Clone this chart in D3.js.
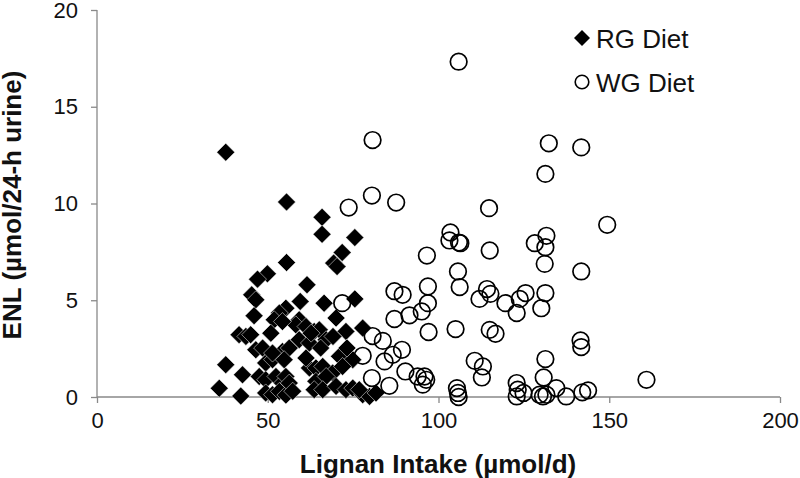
<!DOCTYPE html>
<html><head><meta charset="utf-8">
<script src="https://cdn.jsdelivr.net/npm/d3@7"></script>
<style>body{margin:0;background:#fff}svg{display:block}text{font-family:"Liberation Sans",Arial,sans-serif}</style>
</head><body>
<script>
const rgX=[37.7,55.5,65.9,65.9,75.5,71.8,69.3,70.3,55.5,49.9,47.0,61.5,45.3,46.5,75.5,66.5,59.5,55.3,53.4,46.0,59.2,58.2,61.2,70.0,63.6,65.1,51.9,54.3,50.9,41.6,43.6,45.0,72.9,77.8,59.2,62.2,67.1,69.1,46.5,48.5,54.3,71.0,74.9,37.7,49.4,51.4,62.2,64.1,66.1,69.0,42.6,47.5,49.4,52.4,54.3,64.1,67.1,35.8,42.1,49.4,51.4,53.4,55.3,63.6,66.1,70.0,72.9,74.9,77.8,79.8,81.7,76.8,56.3,54.8,55.3,61.2,62.7,65.5,73.2,71.9,51.4,56.3,57.3];
const rgY=[12.65,10.08,9.29,8.41,8.24,7.47,6.92,6.74,6.95,6.37,6.09,5.80,5.28,5.02,5.07,4.85,4.94,4.59,4.34,4.20,3.99,3.73,3.64,4.08,3.39,3.47,3.99,3.90,3.30,3.22,3.13,3.22,3.39,3.56,2.96,2.79,2.96,3.13,2.44,2.53,2.35,2.10,1.93,1.67,1.76,1.93,1.50,1.50,1.58,1.24,1.15,1.06,0.89,1.06,0.72,0.81,1.06,0.45,0.05,0.21,0.12,0.29,0.10,0.38,0.38,0.55,0.38,0.46,0.12,0.03,0.21,0.38,2.53,1.93,1.06,2.01,3.30,2.53,2.53,1.58,2.27,0.72,0.30];
const wgX=[105.9,132.3,141.8,131.3,114.8,149.4,103.5,103.2,106.0,106.4,128.2,131.6,131.3,96.6,115.0,131.1,105.7,141.8,106.2,96.9,114.2,115.2,112.0,125.5,123.8,119.6,122.9,131.3,130.1,96.9,95.1,91.5,87.1,89.5,87.1,97.1,105.0,115.0,116.7,141.6,141.8,89.3,86.6,131.3,110.6,113.0,112.7,130.8,160.9,90.3,93.9,95.9,96.4,95.4,105.4,105.7,105.9,122.9,123.2,122.9,124.9,129.6,130.6,131.6,134.5,137.4,142.1,143.8,80.7,80.5,73.7,87.6,71.8,80.7,83.7,77.8,84.2,80.5,85.6];
const wgY=[17.33,13.11,12.9,11.53,9.76,8.9,8.50,8.09,7.98,7.95,7.95,8.33,7.74,7.31,7.57,6.88,6.49,6.49,5.68,5.71,5.58,5.33,5.07,5.37,5.07,4.85,4.34,5.37,4.59,4.85,4.42,4.22,5.47,5.28,4.03,3.36,3.51,3.47,3.27,2.92,2.58,2.44,2.18,1.96,1.87,1.58,1.01,1.01,0.89,1.32,1.06,1.06,0.89,0.64,0.46,0.21,0.00,0.72,0.38,0.03,0.21,0.12,0.03,0.12,0.46,0.03,0.24,0.34,13.28,10.41,9.79,10.05,4.85,3.15,2.90,2.13,1.84,0.98,0.58];
const xTicks=[0,50,100,150,200];
const yTicks=[0,5,10,15,20];
const seriesNames=["RG Diet","WG Diet"];
const xTitle="Lignan Intake (µmol/d)";
const yTitle="ENL (µmol/24-h urine)";

const W=800,H=478;
const svg=d3.select("body").append("svg").attr("width",W).attr("height",H);
const x=d3.scaleLinear().domain([0,200]).range([97,780]);
const y=d3.scaleLinear().domain([0,20]).range([397,10]);
const axisColor="#898989";

const gx=svg.append("g").attr("transform","translate(0,397)")
  .call(d3.axisBottom(x).tickValues(xTicks).tickSize(6).tickPadding(9));
const gy=svg.append("g").attr("transform","translate(97,0)")
  .call(d3.axisLeft(y).tickValues(yTicks).tickSize(6).tickPadding(13));
[gx,gy].forEach(g=>{
  g.selectAll("path,line").attr("stroke",axisColor).attr("stroke-width",1.3);
  g.selectAll("text").attr("font-size",22).attr("fill","#111")
   .attr("font-family",'"Liberation Sans",Arial,sans-serif');
});
gx.select(".domain").attr("d","M97,0H780");
gy.select(".domain").attr("d","M0,10V397");

svg.append("text").attr("x",438).attr("y",473).attr("text-anchor","middle")
  .attr("font-weight","bold").attr("font-size",26).attr("fill","#111").text(xTitle);
svg.append("text").attr("transform","translate(21,205) rotate(-90)").attr("text-anchor","middle")
  .attr("font-weight","bold").attr("font-size",26).attr("fill","#111").text(yTitle);

const diamond=(cx,cy,r)=>`M${cx},${cy-r}L${cx+r},${cy}L${cx},${cy+r}L${cx-r},${cy}Z`;
const rg=rgX.map((v,i)=>({x:v,y:rgY[i]}));
const wg=wgX.map((v,i)=>({x:v,y:wgY[i]}));

svg.append("g").selectAll("path").data(rg).join("path")
  .attr("d",d=>diamond(x(d.x),y(d.y),9))
  .attr("fill","#000").attr("stroke","#fff").attr("stroke-width",0.5);
svg.append("g").selectAll("circle").data(wg).join("circle")
  .attr("cx",d=>x(d.x)).attr("cy",d=>y(d.y)).attr("r",8.3)
  .attr("fill","none").attr("stroke","#000").attr("stroke-width",1.7);

// legend
const lg=svg.append("g");
lg.append("path").attr("d",diamond(582,38,8)).attr("fill","#000");
lg.append("text").attr("x",596).attr("y",48).attr("font-size",26).attr("fill","#111").text(seriesNames[0]);
lg.append("circle").attr("cx",582).attr("cy",82).attr("r",6.8).attr("fill","none").attr("stroke","#000").attr("stroke-width",1.6);
lg.append("text").attr("x",596).attr("y",92).attr("font-size",26).attr("fill","#111").text(seriesNames[1]);
</script>
</body></html>
